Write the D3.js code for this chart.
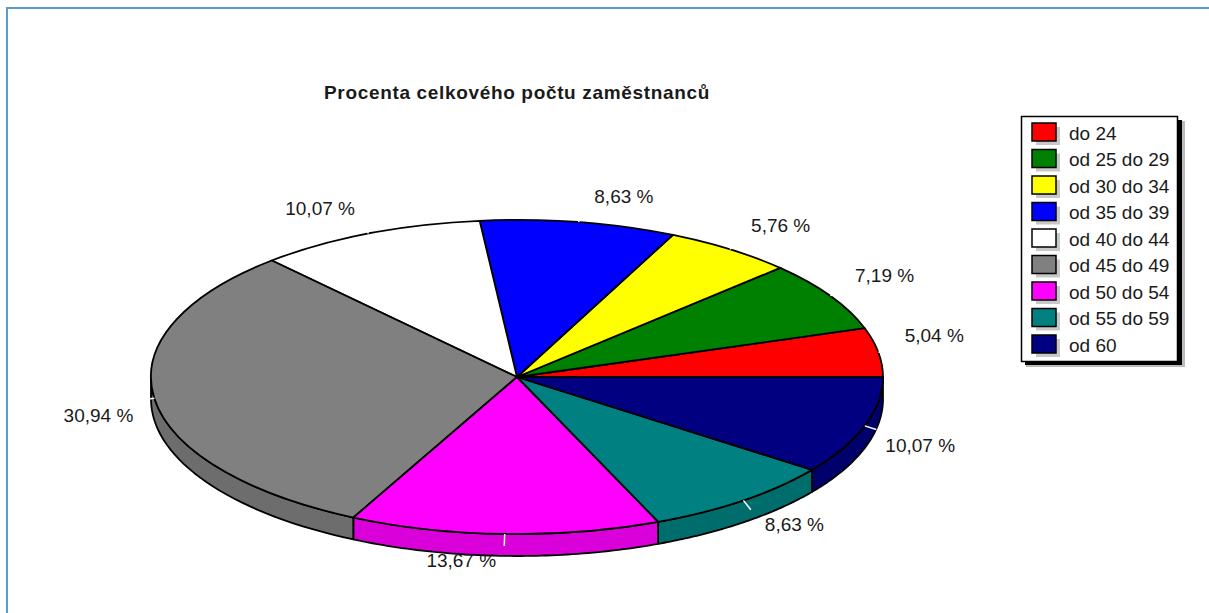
<!DOCTYPE html>
<html>
<head>
<meta charset="utf-8">
<script src="https://cdn.jsdelivr.net/npm/d3@7"></script>
<style>
  html, body { margin: 0; padding: 0; background: #fff; overflow: hidden; }
  text { font-family: "Liberation Sans", Arial, sans-serif; fill: #1a1a1a; }
</style>
</head>
<body>
<svg id="plot"></svg>
<script>
const width = 1209;
const height = 613;

const title = 'Procenta celkového počtu zaměstnanců';
const categories = ['do 24', 'od 25 do 29', 'od 30 do 34', 'od 35 do 39', 'od 40 do 44',
  'od 45 do 49', 'od 50 do 54', 'od 55 do 59', 'od 60'];
const percents = [5.04, 7.19, 5.76, 8.63, 10.07, 30.94, 13.67, 8.63, 10.07];
const colors = ['#ff0000', '#008000', '#ffff00', '#0000ff', '#ffffff',
  '#808080', '#ff00ff', '#008080', '#000080'];

const cx = 517, cy = 377, rx = 366, ry = 157, depth = 22;

const svg = d3.select('svg#plot').attr('width', width).attr('height', height);

// frame of the screenshot, only top and left are visible
svg.append('path')
  .attr('d', `M7,${height}V8H${width}`)
  .attr('fill', 'none')
  .attr('stroke', '#5b9bd5')
  .attr('stroke-width', 2);

svg.append('text')
  .attr('x', 517).attr('y', 99)
  .attr('text-anchor', 'middle')
  .style('font-size', '19px')
  .style('font-weight', 'bold')
  .style('letter-spacing', '0.66px')
  .text(title);

// pie runs counter clockwise from east, the ellipse is a squashed unit circle
const pie = d3.pie().sort(null)
  .startAngle(Math.PI / 2)
  .endAngle(Math.PI / 2 - 2 * Math.PI);
const slices = pie(percents);
const rim = a => [cx + rx * Math.sin(a), cy - ry * Math.cos(a)];

// walls, only the part of the rim facing the viewer
const line = d3.line();
const walls = slices.map((d, i) => {
  let pts = d3.range(0, 61).map(k => d.startAngle + (d.endAngle - d.startAngle) * k / 60)
    .filter(a => Math.cos(a) <= 0)
    .map(rim);
  return {i, pts};
}).filter(w => w.pts.length > 1);

svg.append('g').selectAll('path')
  .data(walls)
  .enter()
  .append('path')
  .attr('d', w => line(w.pts.concat(w.pts.slice().reverse().map(p => [p[0], p[1] + depth]))) + 'Z')
  .attr('fill', w => d3.color(colors[w.i]).darker(0.45))
  .attr('stroke', '#000')
  .attr('stroke-width', 1.8)
  .attr('stroke-linejoin', 'round');

const arc = d3.arc().innerRadius(0).outerRadius(1);
svg.append('g')
  .attr('transform', `translate(${cx},${cy}) scale(${rx},${ry})`)
  .selectAll('path')
  .data(slices)
  .enter()
  .append('path')
  .attr('d', arc)
  .attr('fill', (d, i) => colors[i])
  .attr('stroke', '#000')
  .attr('stroke-width', 1.8)
  .attr('vector-effect', 'non-scaling-stroke');

// white leader ticks and percentage labels at each slice's middle
const mid = d => (d.startAngle + d.endAngle) / 2;
svg.append('g').selectAll('line')
  .data(slices)
  .enter()
  .append('line')
  .attr('x1', d => rim(mid(d))[0])
  .attr('y1', d => rim(mid(d))[1])
  .attr('x2', d => rim(mid(d))[0] + 12 * Math.sin(mid(d)))
  .attr('y2', d => rim(mid(d))[1] - 12 * Math.cos(mid(d)))
  .attr('stroke', '#fff')
  .attr('stroke-width', 1.5);

svg.append('g').selectAll('text')
  .data(slices)
  .enter()
  .append('text')
  .attr('x', d => {
    let s = Math.sin(mid(d));
    return rim(mid(d))[0] + Math.sign(s) * (43 + 13 * Math.abs(s));
  })
  .attr('y', d => {
    let c = Math.cos(mid(d));
    return rim(mid(d))[1] - Math.sign(c) * (16 + 10 * Math.abs(c));
  })
  .attr('dy', '0.36em')
  .attr('text-anchor', 'middle')
  .style('font-size', '19px')
  .text(d => d.value.toFixed(2).replace('.', ',') + ' %');

// legend
const legendY = d3.scalePoint().domain(categories).range([132, 344]);
const legend = svg.append('g');
legend.append('rect')
  .attr('x', 1026).attr('y', 121).attr('width', 159).attr('height', 246)
  .attr('fill', '#bbb');
legend.append('rect')
  .attr('x', 1025).attr('y', 120).attr('width', 157).attr('height', 245)
  .attr('fill', '#000');
legend.append('rect')
  .attr('x', 1021.5).attr('y', 116.5).attr('width', 156).attr('height', 245)
  .attr('fill', '#fff')
  .attr('stroke', '#000')
  .attr('stroke-width', 1.5);

const rows = legend.selectAll('.row')
  .data(categories)
  .enter()
  .append('g')
  .attr('class', 'row')
  .attr('transform', d => `translate(0,${legendY(d)})`);
rows.append('rect')
  .attr('x', 1036).attr('y', -5).attr('width', 24).attr('height', 18)
  .attr('fill', '#c8c8c8');
rows.append('rect')
  .attr('x', 1032).attr('y', -9).attr('width', 24).attr('height', 18)
  .attr('fill', (d, i) => colors[i])
  .attr('stroke', '#000')
  .attr('stroke-width', 1.5);
rows.append('text')
  .attr('x', 1069)
  .attr('y', 1)
  .attr('dy', '0.36em')
  .style('font-size', '19px')
  .text(d => d);
</script>
</body>
</html>
